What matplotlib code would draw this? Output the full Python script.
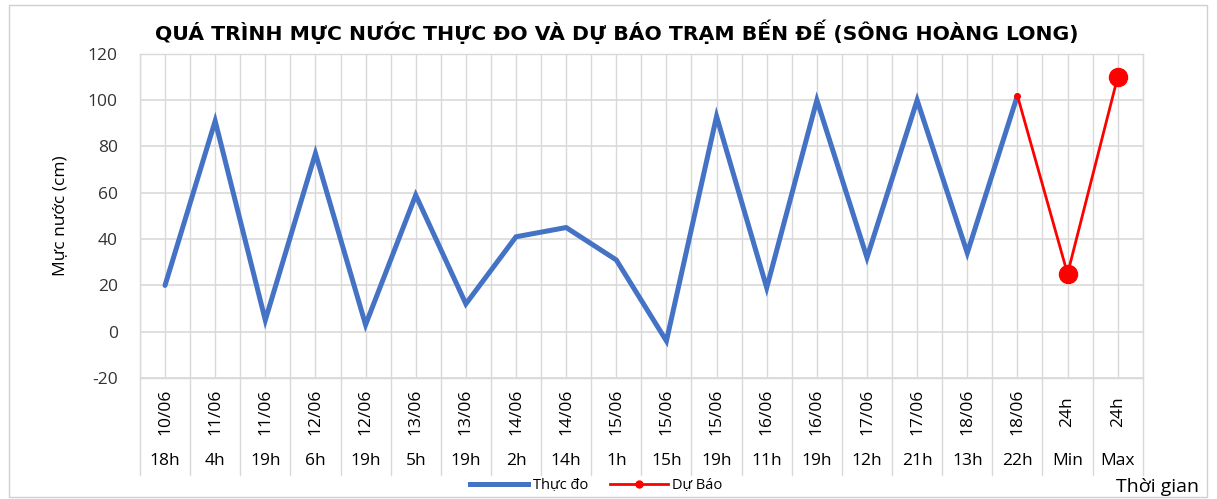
import numpy as np
import matplotlib.pyplot as plt
from matplotlib.lines import Line2D
from matplotlib.patches import Rectangle

plt.rcParams['font.family'] = ['Open Sans', 'DejaVu Sans']
plt.rcParams['axes.unicode_minus'] = False

# ── Data ───────────────────────────────────────────────────
dates = ["10/06", "11/06", "11/06", "12/06", "12/06", "13/06", "13/06", "14/06",
         "14/06", "15/06", "15/06", "15/06", "16/06", "16/06", "17/06", "17/06",
         "18/06", "18/06", "24h", "24h"]
hours = ["18h", "4h", "19h", "6h", "19h", "5h", "19h", "2h", "14h", "1h",
         "15h", "19h", "11h", "19h", "12h", "21h", "13h", "22h", "Min", "Max"]
observed = [20, 91, 5, 77, 3, 59, 12, 41, 45, 31, -4, 93, 19, 100, 32, 100, 34, 102,
            np.nan, np.nan]
forecast = [np.nan] * 17 + [102, 25, 110]

x = np.arange(len(dates))

# ── Figure ─────────────────────────────────────────────────
fig = plt.figure(figsize=(12.17, 4.99), dpi=100)
ax = fig.add_axes([0.115, 0.2425, 0.824, 0.6495])

grid_c = "#D9D9D9"
ax.plot(x, observed, color="#4472C4", linewidth=3.6, solid_capstyle="round",
        solid_joinstyle="miter", zorder=3)
ax.plot(x, forecast, color="#FF0000", linewidth=2.0, zorder=4)
ax.plot(x[17:18], forecast[17:18], "o", color="#FF0000", markersize=4, zorder=5)
ax.plot(x[18:], forecast[18:], "o", color="#FF0000", markersize=13, zorder=5)

ax.set_xlim(-0.5, len(dates) - 0.5)
ax.set_ylim(-20, 120)
ax.set_yticks(range(-20, 121, 20))
ax.set_xticks(x)
ax.set_xticks(np.arange(-0.5, len(dates), 1), minor=True)
ax.tick_params(axis="x", which="both", length=0, labelbottom=False)
ax.tick_params(axis="y", length=0, labelsize=12.5, pad=16, colors="#333333")
ax.grid(axis="y", color=grid_c, linewidth=1.2)
ax.grid(axis="x", which="both", color=grid_c, linewidth=1.0)
ax.set_axisbelow(True)
for s in ax.spines.values():
    s.set_color(grid_c)
    s.set_linewidth(1.0)

ax.set_ylabel("Mực nước (cm)", fontsize=12.5, labelpad=14)
ax.set_title("QUÁ TRÌNH MỰC NƯỚC THỰC ĐO VÀ DỰ BÁO TRẠM BẾN ĐẾ (SÔNG HOÀNG LONG)",
             fontsize=14.7, fontweight="bold", pad=10, x=0.475,
             family=["DejaVu Sans"])

# ── Multi-level category table under the axis ──────────────
trans = ax.get_xaxis_transform()
for i in range(len(dates)):
    ax.text(i, -0.105, dates[i], transform=trans, rotation=90, ha="center",
            va="center", fontsize=12.5, clip_on=False)
    ax.text(i, -0.255, hours[i], transform=trans, ha="center", va="center",
            fontsize=12.5, clip_on=False)
for b in np.arange(-0.5, len(dates), 1):
    ax.add_line(Line2D([b, b], [0, -0.30], transform=trans, color=grid_c,
                       linewidth=1.0, clip_on=False))

# ── Legend & axis caption ──────────────────────────────────
handles = [Line2D([], [], color="#4472C4", linewidth=3.6),
           Line2D([], [], color="#FF0000", linewidth=2.0, marker="o", markersize=5)]
fig.legend(handles, ["Thực đo", "Dự Báo"], loc="center", bbox_to_anchor=(0.49, 0.027),
           ncol=2, frameon=False, fontsize=10.5, handlelength=4.0, columnspacing=1.5,
           handletextpad=0.3)
fig.text(0.985, 0.025, "Thời gian", ha="right", va="center", fontsize=14)

fig.add_artist(Rectangle((0.007, 0.005), 0.985, 0.985, transform=fig.transFigure,
                         fill=False, edgecolor="#D0D0D0", linewidth=1.0))

fig.savefig("out.png", dpi=100)
